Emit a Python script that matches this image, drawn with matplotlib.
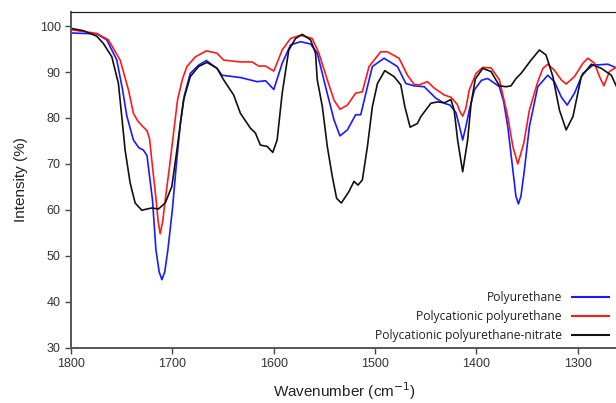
import matplotlib
matplotlib.use("Agg")
import matplotlib.pyplot as plt

# Wavenumber (cm-1) / intensity (%)
pu_x = [1800, 1774.6, 1764.7, 1754.8, 1749, 1745, 1738.4, 1733, 1728.5, 1725, 1719.6, 1716.2,
        1713, 1710.3, 1707.5, 1704.4, 1700, 1696, 1692, 1688, 1682.3, 1674.1, 1666.5, 1655.9,
        1651, 1632.8, 1616.3, 1608, 1599.9, 1591.6, 1583.4, 1573.5, 1563.6, 1557, 1548.8,
        1540.5, 1534.6, 1527.3, 1519.1, 1514.1, 1507.5, 1502.6, 1491.1, 1477.9, 1469.6, 1461.4,
        1451.5, 1440, 1431.7, 1426, 1420.2, 1416.5, 1413.5, 1410.5, 1407, 1402, 1395, 1388.8,
        1377.3, 1373, 1369, 1364, 1361, 1358.5, 1356, 1352.6, 1347.7, 1339.4, 1329.5, 1323,
        1316.3, 1310.4, 1303.2, 1294.9, 1285, 1270.1, 1261]
pu_y = [98.5, 98.3, 97.0, 92.6, 86.0, 80.5, 75.2, 73.5, 73.0, 71.8, 62.2, 51.3,
        46.5, 44.8, 46.5, 51.3, 60.0, 70.0, 79.0, 85.0, 89.7, 91.5, 92.5, 90.8,
        89.3, 88.8, 87.9, 88.1, 86.2, 91.9, 95.9, 96.6, 96.1, 94.1, 86.8,
        79.6, 76.1, 77.4, 80.7, 80.7, 86.8, 91.2, 93.0, 91.2, 87.5, 87.0,
        86.8, 84.3, 83.2, 82.8, 81.2, 78.0, 75.2, 78.0, 81.7, 86.1, 88.2, 88.6,
        86.8, 83.5, 78.1, 68.7, 63.0, 61.3, 63.0, 68.7, 78.1, 86.8, 89.3, 87.9,
        84.6, 82.8, 85.4, 89.7, 91.5, 91.7, 90.8]

pcpu_x = [1800, 1774.6, 1763.1, 1751.5, 1743.3, 1738.4, 1734, 1728.5, 1725, 1722.5, 1719.6,
          1716, 1714, 1712, 1709.5, 1707, 1702.8, 1698.8, 1694.9, 1690, 1685.6, 1677.3, 1666.5,
          1655.9, 1649.4, 1632.8, 1621.3, 1614.7, 1608, 1599.9, 1591.6, 1583.4, 1573.5, 1562,
          1555.4, 1547.1, 1540.5, 1534.6, 1527.3, 1519.1, 1512.5, 1505.9, 1494.4, 1487.8, 1476.3,
          1468, 1461.4, 1456.5, 1448.2, 1441.6, 1431.7, 1425, 1419, 1416, 1413.5, 1410.5, 1407,
          1400.4, 1393.7, 1385.5, 1377.3, 1369, 1364, 1359.1, 1353.2, 1347.7, 1339.4, 1334.4,
          1329.5, 1323, 1316.3, 1311.4, 1303.2, 1294.9, 1290, 1283.4, 1278.5, 1274.2, 1268.7, 1261]
pcpu_y = [99.2, 98.4, 97.0, 92.6, 86.1, 81.0, 79.3, 78.0, 77.2, 75.5, 69.4,
          62.2, 57.5, 54.8, 57.5, 62.2, 69.4, 76.7, 83.9, 88.5, 91.2, 93.3, 94.6,
          94.1, 92.6, 92.2, 92.2, 91.3, 91.3, 90.2, 94.8, 97.3, 98.0, 97.3,
          94.1, 88.3, 83.9, 81.9, 82.8, 85.4, 85.7, 91.2, 94.4, 94.4, 93.0,
          89.3, 87.3, 87.2, 87.9, 86.5, 85.0, 84.5, 83.0, 81.3, 80.4, 82.0, 86.1,
          89.7, 91.0, 90.9, 88.3, 80.3, 73.8, 70.0, 74.5, 81.7, 87.9, 90.8,
          91.7, 90.4, 88.3, 87.4, 89.0, 91.9, 93.0, 91.9, 89.0, 87.0, 90.1, 91.2]

pcpun_x = [1800, 1787.8, 1774.6, 1768, 1759.7, 1753.2, 1749.9, 1746.6, 1741.6, 1736.7, 1730.1,
           1725, 1720.2, 1713.7, 1707, 1700.5, 1695.5, 1689, 1682.3, 1674.1, 1665.8, 1655.9,
           1649.4, 1639.5, 1632.8, 1623, 1618, 1613.1, 1606.4, 1600.9, 1596.6, 1591.6, 1585.1,
           1578.4, 1571.8, 1563.6, 1558.7, 1557, 1552, 1547.1, 1542.1, 1537.9, 1533.2, 1525.7,
           1520.8, 1516.8, 1512.5, 1507.5, 1502.6, 1497.6, 1490.4, 1481.2, 1474.6, 1470.6, 1465.4,
           1458.2, 1454.8, 1444.9, 1438.3, 1431.7, 1425.1, 1421.9, 1418.5, 1413.5, 1408.6, 1405.3,
           1401, 1393.7, 1385.5, 1377.3, 1370.7, 1365.8, 1360.8, 1355.9, 1346, 1337.8, 1331.2,
           1324.5, 1318, 1311.4, 1304.7, 1296.5, 1286.6, 1276.7, 1266.8, 1261]
pcpun_y = [99.5, 99.0, 97.8, 96.2, 93.3, 87.5, 80.3, 73.0, 65.8, 61.5, 59.9,
           60.2, 60.4, 60.2, 61.5, 65.1, 73.0, 83.9, 89.0, 91.2, 92.1, 90.8,
           88.3, 85.0, 81.0, 77.8, 76.7, 74.1, 73.8, 72.5, 75.2, 85.4, 94.8,
           97.3, 98.2, 97.0, 94.1, 88.3, 82.5, 73.8, 67.2, 62.5, 61.5, 64.0,
           66.2, 65.4, 66.5, 73.8, 82.5, 87.5, 90.3, 89.0, 87.2, 82.5, 78.0,
           78.8, 80.3, 83.2, 83.5, 83.3, 84.0, 81.7, 75.2, 68.3, 75.2, 83.0,
           88.5, 90.8, 90.1, 87.0, 86.8, 87.0, 88.6, 89.7, 92.6, 94.8, 93.7,
           89.0, 81.7, 77.4, 80.3, 89.0, 91.7, 90.8, 89.3, 86.5]

labels = ["Polyurethane", "Polycationic polyurethane", "Polycationic polyurethane-nitrate"]
x_ticks = [1800, 1700, 1600, 1500, 1400, 1300]
y_ticks = [30, 40, 50, 60, 70, 80, 90, 100]

plt.rcParams['font.family'] = ['Liberation Sans', 'DejaVu Sans']

fig = plt.figure(figsize=(6.16, 4.03), dpi=100)
ax = fig.add_axes([71/616, 1 - 347.7/403, 1 - 71/616 + 0.002, (347.7 - 12.3)/403])

ax.plot(pu_x, pu_y, color='#1a1aff', lw=1.2, label=labels[0])
ax.plot(pcpu_x, pcpu_y, color='#ff1a1a', lw=1.2, label=labels[1])
ax.plot(pcpun_x, pcpun_y, color='#111111', lw=1.2, label=labels[2])

ax.set_xlim(1800, 1261)
ax.set_ylim(30, 103)
ax.set_xticks(x_ticks)
ax.set_yticks(y_ticks)
ax.tick_params(direction='out', length=4, width=1.0, colors='#444444', labelsize=9,
               labelcolor='#333333')
ax.spines['right'].set_visible(False)
for s in ['left', 'bottom']:
    ax.spines[s].set_color('#555555')
    ax.spines[s].set_linewidth(1.4)
ax.spines['top'].set_color('#222222')
ax.spines['top'].set_linewidth(0.9)

ax.set_xlabel('Wavenumber (cm$^{-1}$)', fontsize=11, color='#222222', labelpad=7)
ax.set_ylabel('Intensity (%)', fontsize=11, color='#222222', labelpad=8)

leg = ax.legend(loc='lower right', frameon=False, markerfirst=False,
                prop={'family': 'Open Sans', 'size': 8.7}, handlelength=3.1,
                labelspacing=0.5, borderaxespad=0.05, handletextpad=0.8,
                bbox_to_anchor=(0.995, 0.0))
for t in leg.get_texts():
    t.set_ha('right')
    t.set_color('#222222')
for h in leg.get_lines():
    h.set_linewidth(1.5)

fig.savefig('out.png', dpi=100)
